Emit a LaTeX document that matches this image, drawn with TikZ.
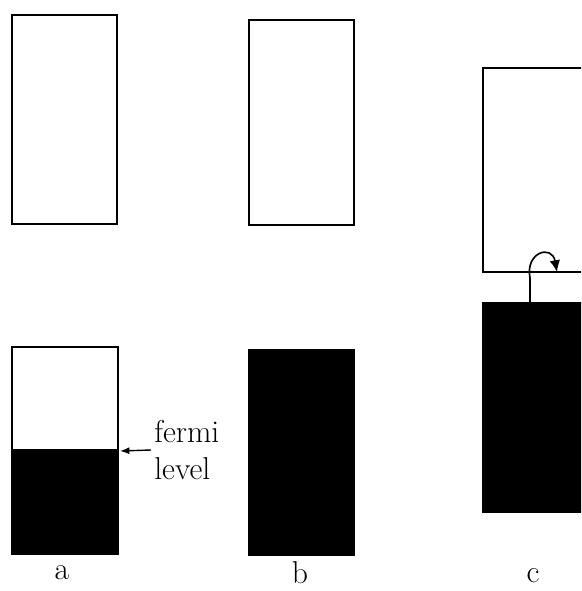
\documentclass[tikz,border=0pt]{standalone}
\usetikzlibrary{arrows.meta}

\begin{document}
\begin{tikzpicture}[%
        x = 0.03cm,
        y = -0.03cm,
        > = Latex,
        font = \fontsize{27}{32}\selectfont,
        line width = 1.6pt
    ]

        % Fix the frame; band c runs off the right edge.
        \useasboundingbox (0, 0) rectangle (581, 591);
        \clip (0, 0) rectangle (581, 591);

        % Band a: empty upper band, lower band filled up to the fermi level.
        \draw (12, 15) rectangle (117, 224);
        \fill (12, 449) rectangle (118, 554);
        \draw (12, 347) rectangle (118, 554);
        \coordinate (fermi) at (120, 451);
        \node[anchor = west, align = left, inner sep = 2pt] (level) at (151, 450)
            {fermi\\level};
        \draw[-{Latex[length = 8pt, width = 6pt]}, line width = 1.2pt]
            (level.west) to (fermi);

        % Band b: empty upper band, full lower band.
        \draw (249, 20) rectangle (354, 225);
        \filldraw (249, 350) rectangle (354, 555);

        % Band c: full lower band, electron hops over the gap.
        \draw (483, 68) rectangle (610, 272);
        \filldraw (483, 303) rectangle (610, 512);
        \coordinate (start) at (530, 303);
        \coordinate (land) at (557, 272);
        \draw[-{Latex[length = 10pt, width = 9pt]}, line width = 1.4pt] (start) -- (530, 278)
            .. controls (525, 252) and (552, 244) .. (land);

        % Labels under the bands.
        \foreach \name/\x/\y in {a/62/573, b/300/573, c/533/576}{%
            \node (lab\name) at (\x, \y) {\name};
        }
    \end{tikzpicture}
\end{document}
